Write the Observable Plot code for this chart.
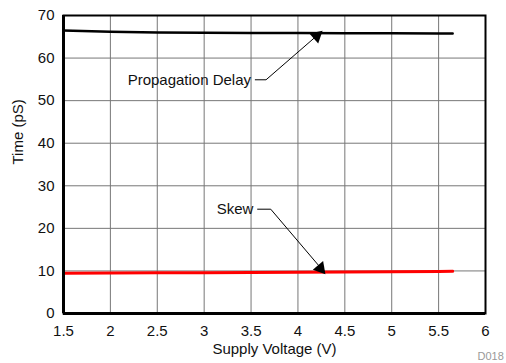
<!DOCTYPE html>
<html>
<head>
<meta charset="utf-8">
<script src="https://cdn.jsdelivr.net/npm/d3@7"></script>
<script src="https://cdn.jsdelivr.net/npm/@observablehq/plot@0.6"></script>
<style>
  html, body { margin: 0; padding: 0; background: #fff; }
</style>
</head>
<body>
<div id="chart"></div>
<script>
// Data
const voltage   = [1.5, 2, 2.5, 3, 3.5, 4, 4.5, 5, 5.5, 5.65];
const propDelay = [66.5, 66.2, 66.0, 65.95, 65.9, 65.9, 65.85, 65.85, 65.8, 65.8];
const skew      = [9.45, 9.5, 9.55, 9.6, 9.65, 9.7, 9.75, 9.8, 9.85, 9.9];

const xTicks = [1.5, 2, 2.5, 3, 3.5, 4, 4.5, 5, 5.5, 6];
const yTicks = [0, 10, 20, 30, 40, 50, 60, 70];

// Annotations (data units)
const annLabels = ["Propagation Delay", "Skew"];
const annTextX = [3.5, 3.525];
const annTextY = [54.75, 24.5];
const annLineX = [[3.545, 3.66, 4.22], [3.57, 3.71, 4.27]];
const annLineY = [[54.9, 54.9, 65.6], [24.5, 24.5, 10.0]];
const annTipX = [4.2, 4.24];
const annTipY = [65.2, 10.6];
const annTipAngle = [49, 140];

const propRows = voltage.map((v, i) => ({v, t: propDelay[i]}));
const skewRows = voltage.map((v, i) => ({v, t: skew[i]}));
const leaderRows = annLineX.flatMap((xs, k) => xs.map((x, j) => ({k, x, y: annLineY[k][j]})));
const tipRows = annTipX.map((x, k) => ({x, y: annTipY[k], a: annTipAngle[k]}));
const labelRows = annLabels.map((s, k) => ({s, x: annTextX[k], y: annTextY[k]}));

const fmt = d => String(d);

const chart = Plot.plot({
  width: 506,
  height: 363,
  marginLeft: 63,
  marginRight: 21,
  marginTop: 15,
  marginBottom: 50,
  style: {fontFamily: "'Liberation Sans', Arial, sans-serif", fontSize: "15px", color: "#111", background: "#fff"},
  x: {domain: [1.5, 6]},
  y: {domain: [0, 70]},
  marks: [
    Plot.gridX(xTicks, {stroke: "#777", strokeOpacity: 1, strokeWidth: 1}),
    Plot.gridY(yTicks, {stroke: "#777", strokeOpacity: 1, strokeWidth: 1}),
    Plot.axisX(xTicks, {tickSize: 0, tickPadding: 12, label: null, fontSize: 15, tickFormat: fmt, fill: "#111"}),
    Plot.axisY(yTicks, {tickSize: 0, tickPadding: 9, label: null, fontSize: 15, tickFormat: fmt, fill: "#111"}),
    Plot.line(propRows, {x: "v", y: "t", stroke: "#000", strokeWidth: 2.5}),
    Plot.line(skewRows, {x: "v", y: "t", stroke: "#ff0000", strokeWidth: 3}),
    Plot.line(leaderRows, {x: "x", y: "y", z: "k", stroke: "#000", strokeWidth: 1}),
    Plot.dot(tipRows, {x: "x", y: "y", rotate: "a", symbol: "triangle", r: 5, fill: "#000", stroke: "none"}),
    Plot.text(labelRows, {x: "x", y: "y", text: "s", textAnchor: "end", fontSize: 15, fill: "#111"}),
    Plot.frame({stroke: "#000", strokeWidth: 2}),
    Plot.ruleX([1.5], {stroke: "#000", strokeWidth: 3}),
    Plot.ruleY([0], {stroke: "#000", strokeWidth: 3}),
    Plot.text(["Supply Voltage (V)"], {frameAnchor: "bottom", dy: 40, fontSize: 15, fill: "#111"}),
    Plot.text(["Time (pS)"], {frameAnchor: "left", rotate: -90, dx: -45, fontSize: 15, fill: "#111"}),
    Plot.text(["D018"], {frameAnchor: "bottom-right", dx: -8, dy: 46, textAnchor: "start", fontSize: 11, fill: "#999"})
  ]
});
document.getElementById("chart").appendChild(chart);
</script>
</body>
</html>
